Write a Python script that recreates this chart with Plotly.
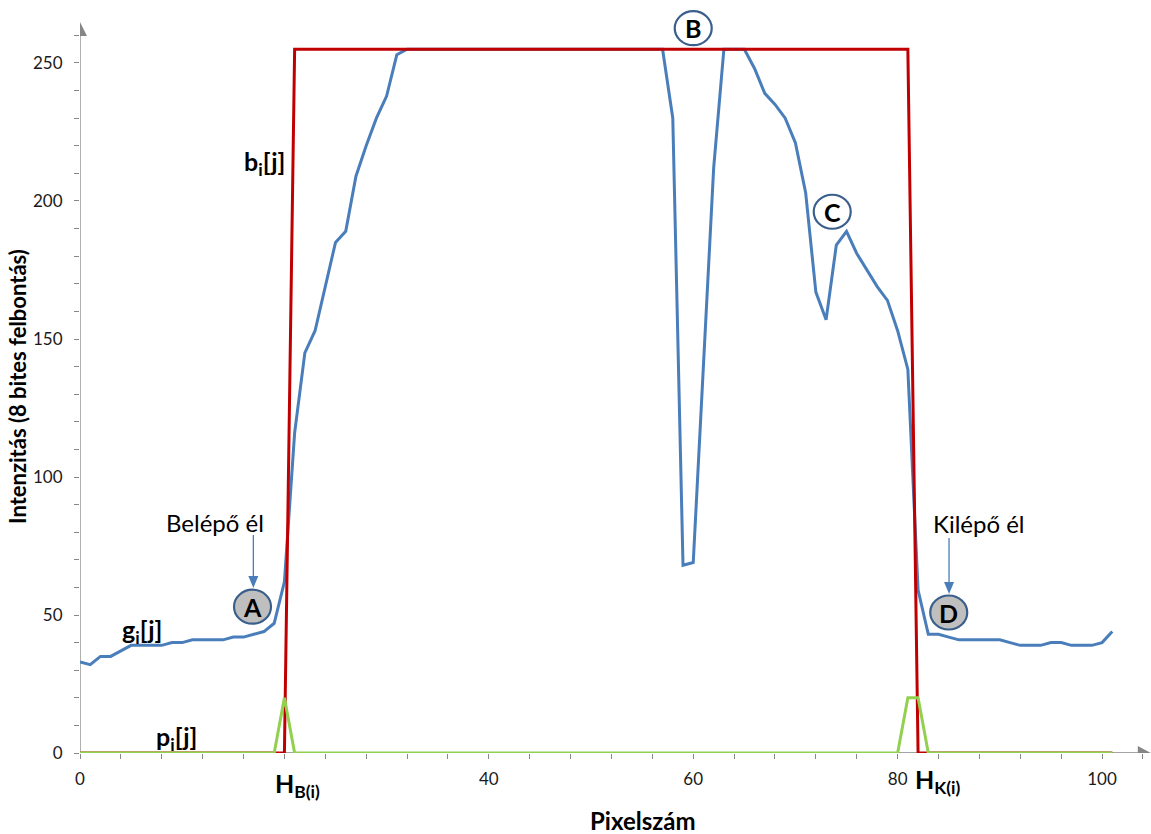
import plotly.graph_objects as go

# ---------------- data ----------------
pixel = list(range(102))

g_values = [33, 32, 35, 35, 37, 39, 39, 39, 39, 40,
            40, 41, 41, 41, 41, 42, 42, 43, 44, 47,
            62, 116, 145, 153, 169, 185, 189, 209, 220, 230,
            238, 253, 255, 255, 255, 255, 255, 255, 255, 255,
            255, 255, 255, 255, 255, 255, 255, 255, 255, 255,
            255, 255, 255, 255, 255, 255, 255, 255, 230, 68,
            69, 140, 212, 255, 255, 255, 248, 239, 235, 230,
            221, 203, 167, 157, 184, 189, 181, 175, 169, 164,
            153, 139, 59, 43, 43, 42, 41, 41, 41, 41,
            41, 40, 39, 39, 39, 40, 40, 39, 39, 39,
            40, 44]

b_values = [0, 0, 0, 0, 0, 0, 0, 0, 0, 0,
            0, 0, 0, 0, 0, 0, 0, 0, 0, 0,
            0, 255, 255, 255, 255, 255, 255, 255, 255, 255,
            255, 255, 255, 255, 255, 255, 255, 255, 255, 255,
            255, 255, 255, 255, 255, 255, 255, 255, 255, 255,
            255, 255, 255, 255, 255, 255, 255, 255, 255, 255,
            255, 255, 255, 255, 255, 255, 255, 255, 255, 255,
            255, 255, 255, 255, 255, 255, 255, 255, 255, 255,
            255, 255, 0, 0, 0, 0, 0, 0, 0, 0,
            0, 0, 0, 0, 0, 0, 0, 0, 0, 0,
            0, 0]

p_values = [0, 0, 0, 0, 0, 0, 0, 0, 0, 0,
            0, 0, 0, 0, 0, 0, 0, 0, 0, 0,
            20, 0, 0, 0, 0, 0, 0, 0, 0, 0,
            0, 0, 0, 0, 0, 0, 0, 0, 0, 0,
            0, 0, 0, 0, 0, 0, 0, 0, 0, 0,
            0, 0, 0, 0, 0, 0, 0, 0, 0, 0,
            0, 0, 0, 0, 0, 0, 0, 0, 0, 0,
            0, 0, 0, 0, 0, 0, 0, 0, 0, 0,
            0, 20, 20, 0, 0, 0, 0, 0, 0, 0,
            0, 0, 0, 0, 0, 0, 0, 0, 0, 0,
            0, 0]

x_tickvals = [0, 40, 60, 80, 100]
x_ticktext = ["0", "40", "60", "80", "100"]
y_tickvals = [0, 50, 100, 150, 200, 250]
y_ticktext = ["0", "50", "100", "150", "200", "250"]

# ---------------- styles ----------------
FONT = "Lato"
AXIS_GRAY = "#868686"
BLUE = "#4A7EBB"
RED = "#C00000"
GREEN = "#92D050"
CIRCLE_LINE = "#3A5F8C"

X_MAX = 104.79
Y_MAX = 269.2

fig = go.Figure()
fig.add_trace(go.Scatter(x=pixel, y=g_values, mode="lines",
                         line=dict(color=BLUE, width=3), hoverinfo="skip"))
fig.add_trace(go.Scatter(x=pixel, y=b_values, mode="lines",
                         line=dict(color=RED, width=3), hoverinfo="skip"))
fig.add_trace(go.Scatter(x=pixel, y=p_values, mode="lines",
                         line=dict(color=GREEN, width=3), hoverinfo="skip"))

shapes = [
    # axis lines
    dict(type="line", xref="x", yref="y", x0=0, x1=0, y0=0, y1=262,
         line=dict(color=AXIS_GRAY, width=1.3), layer="below"),
    dict(type="line", xref="x", yref="y", x0=0, x1=103.8, y0=0, y1=0,
         line=dict(color=AXIS_GRAY, width=1.3), layer="below"),
    # axis arrow heads
    dict(type="path", xref="x", yref="y", xsizemode="pixel", ysizemode="pixel",
         xanchor=0, yanchor=259.8, path="M -7 0 L 7 0 L 0 14 Z",
         fillcolor=AXIS_GRAY, line=dict(width=0)),
    dict(type="path", xref="x", yref="y", xsizemode="pixel", ysizemode="pixel",
         xanchor=103.5, yanchor=0, path="M 0 -7 L 0 7 L 13 0 Z",
         fillcolor=AXIS_GRAY, line=dict(width=0)),
    # callout arrows (Belépő él / Kilépő él)
    dict(type="line", xref="x", yref="y", x0=16.96, x1=16.96, y0=79.0, y1=62.0,
         line=dict(color=BLUE, width=1.3)),
    dict(type="path", xref="x", yref="y", xsizemode="pixel", ysizemode="pixel",
         xanchor=16.96, yanchor=59.8, path="M 0 0 L -5 12 L 5 12 Z",
         fillcolor=BLUE, line=dict(width=0)),
    dict(type="line", xref="x", yref="y", x0=85.03, x1=85.03, y0=77.9, y1=60.0,
         line=dict(color=BLUE, width=1.3)),
    dict(type="path", xref="x", yref="y", xsizemode="pixel", ysizemode="pixel",
         xanchor=85.03, yanchor=57.6, path="M 0 0 L -5 12 L 5 12 Z",
         fillcolor=BLUE, line=dict(width=0)),
]

circles = [("A", 16.88, 53.0, "#BFBFBF"),
           ("B", 60.0, 262.6, "white"),
           ("C", 73.6, 196.1, "white"),
           ("D", 85.0, 50.9, "#BFBFBF")]
annotations = []
for letter, cx, cy, fill in circles:
    shapes.append(dict(type="circle", xref="x", yref="y", xsizemode="pixel", ysizemode="pixel",
                       xanchor=cx, yanchor=cy, x0=-18.5, x1=18.5, y0=-17, y1=17,
                       fillcolor=fill, line=dict(color=CIRCLE_LINE, width=2.2)))
    annotations.append(dict(x=cx, y=cy, xref="x", yref="y", text="<b>%s</b>" % letter,
                            showarrow=False, font=dict(family=FONT, size=25, color="black"),
                            xanchor="center", yanchor="middle"))

def label(text, x, y, size, xanchor="center", yanchor="middle", ref="x"):
    return dict(x=x, y=y, xref="x" if ref == "x" else "paper", yref="y" if ref == "x" else "paper",
                text=text, showarrow=False,
                font=dict(family=FONT, size=size, color="black"),
                xanchor=xanchor, yanchor=yanchor)

annotations += [
    label("<b>b<sub>i</sub>[j]</b>", 20.25, 213.9, 25, xanchor="right"),
    label("<b>g<sub>i</sub>[j]</b>", 6.04, 44.2, 25),
    label("<b>p<sub>i</sub>[j]</b>", 9.46, 5.6, 25),
    label("<b>H<sub>B(i)</sub></b>", 0.1799, -0.0431, 25, xanchor="left", ref="paper"),
    label("<b>H<sub>K(i)</sub></b>", 0.7778, -0.0377, 25, xanchor="left", ref="paper"),
    label("Belépő él", 13.21, 83.5, 24),
    label("Kilépő él", 87.96, 83.0, 24),
    dict(x=-0.0579, y=0.494, xref="paper", yref="paper", text="<b>Intenzitás (8 bites felbontás)</b>",
         textangle=-90, showarrow=False, font=dict(family=FONT, size=22, color="black"),
         xanchor="center", yanchor="middle"),
    dict(x=0.526, y=-0.0915, xref="paper", yref="paper", text="<b>Pixelszám</b>",
         showarrow=False, font=dict(family=FONT, size=24, color="black"),
         xanchor="center", yanchor="middle"),
]

fig.update_layout(
    width=1151, height=834,
    margin=dict(l=80, r=0, t=10, b=81),
    paper_bgcolor="white", plot_bgcolor="white",
    showlegend=False,
    font=dict(family=FONT, color="#1a1a1a"),
    shapes=shapes,
    annotations=annotations,
    xaxis=dict(range=[0, X_MAX], tickmode="array", tickvals=x_tickvals, ticktext=x_ticktext,
               ticks="outside", ticklen=5, tickwidth=1, tickcolor=AXIS_GRAY,
               showline=False, showgrid=False, zeroline=False,
               tickfont=dict(family=FONT, size=17, color="#1a1a1a"),
               ticklabelstandoff=6,
               minor=dict(tickmode="linear", tick0=0, dtick=4, ticks="outside",
                          ticklen=5, tickwidth=1, tickcolor=AXIS_GRAY, showgrid=False)),
    yaxis=dict(range=[0, Y_MAX], tickmode="array", tickvals=y_tickvals, ticktext=y_ticktext,
               ticks="outside", ticklen=5, tickwidth=1, tickcolor=AXIS_GRAY,
               showline=False, showgrid=False, zeroline=False,
               tickfont=dict(family=FONT, size=17, color="#1a1a1a"),
               ticklabelstandoff=8,
               minor=dict(tickmode="linear", tick0=0, dtick=10, ticks="outside",
                          ticklen=5, tickwidth=1, tickcolor=AXIS_GRAY, showgrid=False)),
)

fig.write_html("out.html")
